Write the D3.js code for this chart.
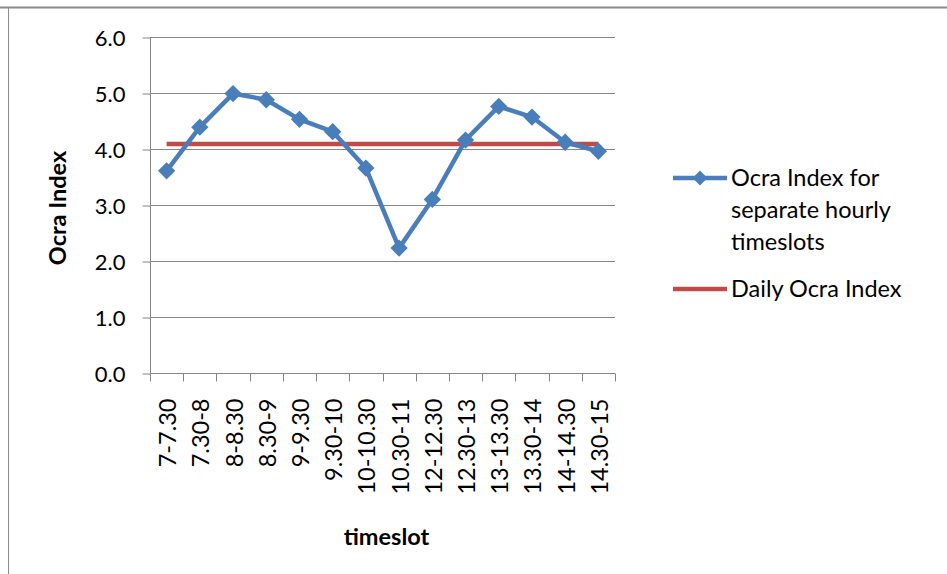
<!DOCTYPE html>
<html>
<head>
<meta charset="utf-8">
<script src="https://cdn.jsdelivr.net/npm/d3@7"></script>
<style>
  html, body { margin: 0; padding: 0; background: #fff; }
  svg { display: block; }
  text { font-family: Lato, "Open Sans", sans-serif; fill: #000; }
</style>
</head>
<body>
<script>
// Hourly timeslots across the working day
const timeslots = ["7-7.30", "7.30-8", "8-8.30", "8.30-9", "9-9.30", "9.30-10", "10-10.30",
  "10.30-11", "12-12.30", "12.30-13", "13-13.30", "13.30-14", "14-14.30", "14.30-15"];
// Ocra index per timeslot
const hourlyIndex = [3.61, 4.39, 4.99, 4.88, 4.53, 4.31, 3.66, 2.23, 3.10, 4.16, 4.76, 4.57, 4.12, 3.96];
// Ocra index for the whole day
const dailyIndex = [4.09];
const yTicks = [0, 1, 2, 3, 4, 5, 6];
const seriesNames = ["Ocra Index for separate hourly timeslots", "Daily Ocra Index"];

const W = 947, H = 574;
const plot = { left: 150, right: 615, top: 37, bottom: 373 };
const blue = "#4A7EBB", red = "#BE4B48", grid = "#868686";

const svg = d3.select("body").append("svg").attr("width", W).attr("height", H);
svg.append("rect").attr("width", W).attr("height", H).attr("fill", "#fff");

// frame of the chart area
svg.append("line").attr("x1", 0).attr("x2", W).attr("y1", 7.5).attr("y2", 7.5)
  .attr("stroke", "#8c8c8c").attr("stroke-width", 2);
svg.append("line").attr("x1", 8.5).attr("x2", 8.5).attr("y1", 7).attr("y2", H)
  .attr("stroke", "#8c8c8c").attr("stroke-width", 1);

const x = d3.scaleBand().domain(timeslots).range([plot.left, plot.right]);
const y = d3.scaleLinear().domain([0, 6]).range([plot.bottom, plot.top]);

// horizontal gridlines
svg.append("g").selectAll("line").data(yTicks.filter(d => d > 0)).join("line")
  .attr("x1", plot.left).attr("x2", plot.right)
  .attr("y1", d => Math.round(y(d)) + 0.5).attr("y2", d => Math.round(y(d)) + 0.5)
  .attr("stroke", grid).attr("stroke-width", 1);

// y axis
const yAxis = svg.append("g").attr("transform", `translate(${plot.left + 0.5},0.5)`)
  .call(d3.axisLeft(y).tickValues(yTicks).tickFormat(d3.format(".1f")).tickSize(8).tickPadding(17));
yAxis.select(".domain").attr("stroke", grid).attr("d", `M0,${plot.top}V${plot.bottom}`);
yAxis.selectAll(".tick line").attr("stroke", grid);
yAxis.selectAll(".tick text").style("font-size", "22px").attr("dy", "0.36em");

// x axis: ticks on category boundaries
const xg = svg.append("g").attr("transform", `translate(0,${Math.round(plot.bottom) + 0.5})`);
xg.append("line").attr("x1", plot.left).attr("x2", plot.right).attr("stroke", grid);
const bounds = timeslots.map(d => x(d)).concat([x(timeslots[timeslots.length - 1]) + x.bandwidth()]);
xg.selectAll("line.tk").data(bounds).join("line").attr("class", "tk")
  .attr("x1", d => Math.round(d) + 0.5).attr("x2", d => Math.round(d) + 0.5)
  .attr("y1", 0).attr("y2", 8).attr("stroke", grid);
xg.selectAll("text").data(timeslots).join("text")
  .attr("transform", d => `translate(${x(d) + x.bandwidth() / 2 + 1},25) rotate(-90)`)
  .attr("text-anchor", "end").attr("dy", "0.36em")
  .style("font-size", "23.5px").text(d => d);

// axis titles
svg.append("text").attr("transform", `translate(58,${(plot.top + plot.bottom) / 2 + 3}) rotate(-90)`)
  .attr("text-anchor", "middle").attr("dy", "0.36em")
  .style("font-size", "23.5px").style("font-weight", "bold").text("Ocra Index");
svg.append("text").attr("x", (plot.left + plot.right) / 2 + 4).attr("y", 545)
  .attr("text-anchor", "middle")
  .style("font-size", "23.5px").style("font-weight", "bold").text("timeslot");

// daily index reference line
const cx = d => x(d) + x.bandwidth() / 2;
svg.append("line")
  .attr("x1", cx(timeslots[0])).attr("x2", cx(timeslots[timeslots.length - 1]))
  .attr("y1", y(dailyIndex[0])).attr("y2", y(dailyIndex[0]))
  .attr("stroke", red).attr("stroke-width", 4.5);

// hourly series
const pts = timeslots.map((t, i) => [cx(t), y(hourlyIndex[i])]);
svg.append("path").attr("d", d3.line()(pts)).attr("fill", "none")
  .attr("stroke", blue).attr("stroke-width", 4.5).attr("stroke-linejoin", "round");
const diamond = d3.symbol().type(d3.symbolSquare).size(150);
svg.append("g").selectAll("path").data(pts).join("path")
  .attr("d", diamond).attr("fill", blue)
  .attr("transform", d => `translate(${d[0]},${d[1]}) rotate(45)`);

// legend
const lg = svg.append("g");
lg.append("line").attr("x1", 673).attr("x2", 727).attr("y1", 178).attr("y2", 178)
  .attr("stroke", blue).attr("stroke-width", 4.5);
lg.append("path").attr("d", d3.symbol().type(d3.symbolSquare).size(110)())
  .attr("fill", blue).attr("transform", "translate(700,178) rotate(45)");
const l1 = lg.append("text").attr("x", 731).attr("y", 186).style("font-size", "23.5px");
["Ocra Index for", "separate hourly", "timeslots"].forEach((s, i) =>
  l1.append("tspan").attr("x", 731).attr("dy", i ? 32 : 0).text(s));
lg.append("line").attr("x1", 673).attr("x2", 727).attr("y1", 289).attr("y2", 289)
  .attr("stroke", red).attr("stroke-width", 4.5);
lg.append("text").attr("x", 731).attr("y", 297).style("font-size", "23.5px").text(seriesNames[1]);
</script>
</body>
</html>
